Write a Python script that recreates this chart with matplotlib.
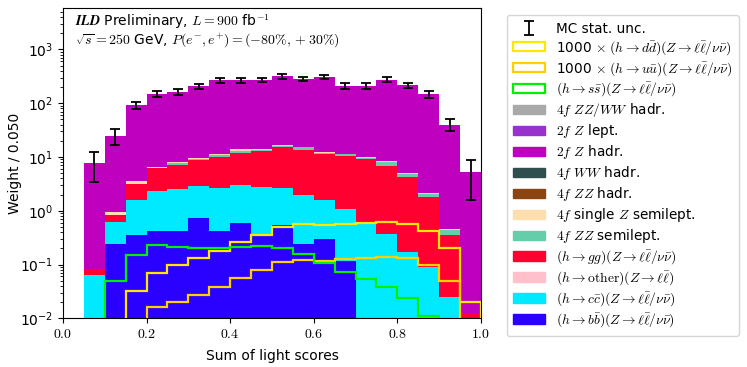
import numpy as np
import matplotlib
matplotlib.use("Agg")
import matplotlib.pyplot as plt
from matplotlib.patches import Patch
from matplotlib.ticker import FuncFormatter, LogLocator

plt.rcParams['mathtext.fontset'] = 'cm'
plt.rcParams['font.family'] = ['DejaVu Sans']

# ---------------- data ----------------
edges = np.linspace(0.0, 1.0, 21)

# stacked backgrounds / signals (bottom -> top)
hbb = [0, 0, 0.24, 0.36, 0.42, 0.42, 0.72, 0.42, 0.60, 0.36, 0.55, 0.24, 0.30, 0.118, 0, 0, 0, 0, 0, 0]
hcc = [0, 0.064, 0.385, 1.20, 1.93, 2.11, 2.20, 2.26, 2.40, 2.40, 2.10, 1.72, 1.28, 0.96, 0.566, 0.37, 0.169, 0.091, 0.025, 0]
hother = [0] * 20
hgg = [0, 0.017, 0.205, 1.53, 3.79, 4.55, 5.73, 7.16, 8.8, 10.1, 12.4, 11.8, 10.0, 9.4, 8.6, 6.5, 4.1, 1.73, 0.33, 0.0124]
zz_semilep = [0, 0, 0.02, 0.09, 0.07, 0.58, 0.54, 0.82, 1.2, 0.78, 1.2, 1.36, 0.48, 0.64, 0.56, 1.23, 0.54, 0.22, 0.085, 0]
singlez_semilep = [0, 0, 0.08, 0.34, 0.28, 0.38, 0.36, 0.54, 0.8, 0.52, 0.3, 0.34, 0.12, 0.16, 0.14, 0.31, 0.13, 0.06, 0.022, 0]
zz_hadr = [0] * 20
ww_hadr = [0] * 20
z2f_hadr = [0, 7.8, 23.9, 88.5, 143.5, 152, 195.5, 254, 254, 256, 298, 268.5, 297, 200, 201, 265, 212, 145, 39.3, 5.24]
z2f_lept = [0] * 20
zzww_hadr = [0] * 20

# MC statistical uncertainty on total
mc_err = [0, 4.5, 8, 14, 20, 20, 23, 26, 26, 27, 30, 28, 30, 24, 24, 28, 25, 21, 10, 3.7]

# overlaid (unstacked) signals
hss = [0, 0, 0.05, 0.150, 0.23, 0.214, 0.205, 0.205, 0.209, 0.218, 0.20, 0.157, 0.108, 0.0735, 0.053, 0.0387, 0.024, 0.011, 0, 0]
hdd_x1000 = [0, 0, 0, 0.0322, 0.0686, 0.098, 0.134, 0.178, 0.259, 0.36, 0.505, 0.56, 0.55, 0.56, 0.60, 0.615, 0.565, 0.425, 0.2, 0.0204]
huu_x1000 = [0, 0, 0, 0, 0.0162, 0.0198, 0.0271, 0.0387, 0.056, 0.079, 0.11, 0.123, 0.118, 0.125, 0.13, 0.137, 0.13, 0.097, 0.049, 0]

stack = [
    (hbb, '#2A00FF', r'$(h\to b\bar{b})(Z\to \ell\bar{\ell}/\nu\bar{\nu})$'),
    (hcc, '#00EAFF', r'$(h\to c\bar{c})(Z\to \ell\bar{\ell}/\nu\bar{\nu})$'),
    (hother, '#FFC0CB', r'$(h\to \mathrm{other})(Z\to \ell\bar{\ell})$'),
    (hgg, '#FF0030', r'$(h\to gg)(Z\to \ell\bar{\ell}/\nu\bar{\nu})$'),
    (zz_semilep, '#66CDAA', r'$4f$ $ZZ$ semilept.'),
    (singlez_semilep, '#FFDEAD', r'$4f$ single $Z$ semilept.'),
    (zz_hadr, '#8B4513', r'$4f$ $ZZ$ hadr.'),
    (ww_hadr, '#2F4F4F', r'$4f$ $WW$ hadr.'),
    (z2f_hadr, '#BF00BF', r'$2f$ $Z$ hadr.'),
    (z2f_lept, '#9932CC', r'$2f$ $Z$ lept.'),
    (zzww_hadr, '#A9A9A9', r'$4f$ $ZZ/WW$ hadr.'),
]

# ---------------- plot ----------------
fig = plt.figure(figsize=(7.47, 3.67), dpi=100)
ax = fig.add_axes([0.0843, 0.1327, 0.5596, 0.8455])
ax.set_yscale('log')

bottom = np.zeros(20)
stack_handles = []
for vals, col, lab in stack:
    v = np.asarray(vals, dtype=float)
    top = bottom + v
    ax.stairs(top, edges, baseline=bottom.copy(), fill=True, color=col, lw=0)
    stack_handles.append(Patch(facecolor=col, edgecolor=col, label=lab))
    bottom = top

centers = 0.5 * (edges[:-1] + edges[1:])
mask = bottom > 0
eb = ax.errorbar(centers[mask], bottom[mask], yerr=np.asarray(mc_err)[mask], fmt='none',
                 ecolor='black', elinewidth=1.3, capsize=3.5, capthick=1.3, zorder=5)

lines = [
    (hdd_x1000, '#FFE800', r'1000 $\times\ (h\to d\bar{d})(Z\to \ell\bar{\ell}/\nu\bar{\nu})$'),
    (huu_x1000, '#FFD000', r'1000 $\times\ (h\to u\bar{u})(Z\to \ell\bar{\ell}/\nu\bar{\nu})$'),
    (hss, '#00F000', r'$(h\to s\bar{s})(Z\to \ell\bar{\ell}/\nu\bar{\nu})$'),
]
line_handles = []
for vals, col, lab in lines:
    ax.stairs(vals, edges, baseline=0, fill=False, color=col, lw=1.6, zorder=4)
    line_handles.append(Patch(facecolor='none', edgecolor=col, lw=1.6, label=lab))

ax.set_xlim(0, 1)
ax.set_ylim(1e-2, 10 ** 3.77)
ax.xaxis.set_major_formatter(FuncFormatter(lambda x, p: f'${x:.1f}$'))
ax.yaxis.set_minor_locator(LogLocator(base=10, subs=np.arange(2, 10), numticks=20))
ax.tick_params(axis='both', labelsize=10)
ax.tick_params(axis='x', pad=2.5)
ax.set_xlabel('Sum of light scores', fontsize=10)
ax.set_ylabel('Weight / 0.050', fontsize=10)
ax.yaxis.set_label_coords(-0.098, 0.5)
ax.xaxis.set_label_coords(0.5, -0.1)

ax.text(0.028, 0.955, r'$\mathbfit{ILD}$ Preliminary, $L = 900$ fb$^{-1}$',
        transform=ax.transAxes, fontsize=10, va='center', ha='left')
ax.text(0.028, 0.898, r'$\sqrt{s} = 250$ GeV, $P(e^{-},e^{+}) = (-80\%, +30\%)$',
        transform=ax.transAxes, fontsize=10, va='center', ha='left')

handles = [eb] + line_handles + stack_handles[::-1]
labels = ['MC stat. unc.'] + [h.get_label() for h in line_handles] + [h.get_label() for h in stack_handles[::-1]]
leg = ax.legend(handles, labels, loc='upper left', bbox_to_anchor=(1.045, 1.0), fontsize=9.8,
                frameon=True, handlelength=2.3, labelspacing=0.22, borderpad=0.5)

fig.savefig('out.png', dpi=100)
